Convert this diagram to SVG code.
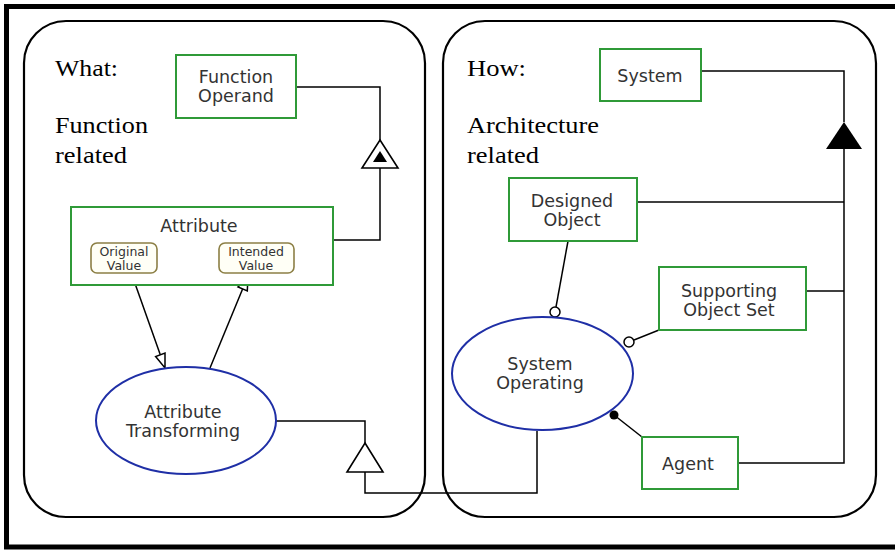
<svg xmlns="http://www.w3.org/2000/svg" width="895" height="550" viewBox="0 0 895 550">
<style>
.frame{fill:none;stroke:#000;stroke-width:5}
.panel{fill:#fff;stroke:#000;stroke-width:2.2}
.box{fill:#fff;stroke:#2f9a38;stroke-width:2}
.val{fill:#fffff6;stroke:#8c7f45;stroke-width:1.6}
.proc{fill:#fff;stroke:#1f2fa6;stroke-width:2}
.t{font-family:"DejaVu Sans","Verdana",sans-serif;font-size:17.5px;fill:#333;text-anchor:middle}
.ts{font-family:"DejaVu Sans","Verdana",sans-serif;font-size:12.5px;fill:#333;text-anchor:middle}
.lbl{font-family:"Liberation Serif","Times New Roman",serif;font-size:23px;fill:#000}
.ln{fill:none;stroke:#000;stroke-width:1.5}
.head{fill:#fff;stroke:#000;stroke-width:1.5;stroke-linejoin:miter}
</style>
<rect class="frame" x="6.5" y="6.5" width="900" height="540.5"/>
<rect class="panel" x="24" y="21" width="401" height="496" rx="42"/>
<rect class="panel" x="443" y="21" width="433" height="496" rx="42"/>
<g id="labels">
<text class="lbl" x="55" y="76" textLength="63" lengthAdjust="spacingAndGlyphs">What:</text>
<text class="lbl" x="55" y="133" textLength="93" lengthAdjust="spacingAndGlyphs">Function</text>
<text class="lbl" x="55" y="163" textLength="72" lengthAdjust="spacingAndGlyphs">related</text>
<text class="lbl" x="467" y="76" textLength="59" lengthAdjust="spacingAndGlyphs">How:</text>
<text class="lbl" x="467" y="133" textLength="132" lengthAdjust="spacingAndGlyphs">Architecture</text>
<text class="lbl" x="467" y="163" textLength="72" lengthAdjust="spacingAndGlyphs">related</text>
</g>
<g id="connectors">
<polyline class="ln" points="296,87 380,87 380,140"/>
<polyline class="ln" points="380,168 380,240 333,240"/>
<path d="M380,140 L398,168 L362,168 z" fill="#fff" stroke="#000" stroke-width="1.6"/>
<path d="M380,151 L387,162 L373,162 z" fill="#000"/>
<line class="ln" x1="132" y1="275" x2="160.3" y2="354.8"/>
<path class="head" d="M155.6,356.5 L165,368 L165,353.1 z"/>
<line class="ln" x1="210" y1="368" x2="242.6" y2="289"/>
<path class="head" d="M247.3,290.9 L248,276 L238,287 z"/>
<polyline class="ln" points="276,421 365,421 365,443"/>
<path d="M365,443 L383,472 L347,472 z" fill="#fff" stroke="#000" stroke-width="1.6"/>
<polyline class="ln" points="365,472 365,493 537,493 537,431"/>
<polyline class="ln" points="701,71 844,71 844,122"/>
<path d="M844,122 L862,149 L826,149 z" fill="#000"/>
<polyline class="ln" points="844,149 844,463 738,463"/>
<line class="ln" x1="637" y1="202" x2="844" y2="202"/>
<line class="ln" x1="806" y1="291" x2="844" y2="291"/>
<line class="ln" x1="568" y1="241" x2="556" y2="307"/>
<circle cx="555" cy="312" r="5" fill="#fff" stroke="#000" stroke-width="1.5"/>
<line class="ln" x1="659" y1="330" x2="634" y2="340"/>
<circle cx="629" cy="342" r="5" fill="#fff" stroke="#000" stroke-width="1.5"/>
<line class="ln" x1="642" y1="437" x2="614" y2="415"/>
<circle cx="614" cy="415" r="4.5" fill="#000"/>
</g>
<g id="function-operand">
<rect class="box" x="176" y="55" width="120" height="63"/>
<text class="t" x="236" y="83">Function</text>
<text class="t" x="236" y="102">Operand</text>
</g>
<g id="attribute">
<rect class="box" x="71" y="207" width="262" height="78"/>
<text class="t" x="199" y="232">Attribute</text>
</g>
<g id="original-value">
<rect class="val" x="91" y="243" width="66" height="30" rx="6"/>
<text class="ts" x="124" y="256">Original</text>
<text class="ts" x="124" y="270">Value</text>
</g>
<g id="intended-value">
<rect class="val" x="219" y="243" width="75" height="30" rx="6"/>
<text class="ts" x="256" y="256">Intended</text>
<text class="ts" x="256" y="270">Value</text>
</g>
<g id="attribute-transforming">
<ellipse class="proc" cx="186" cy="420.5" rx="90" ry="53.5"/>
<text class="t" x="183" y="418">Attribute</text>
<text class="t" x="183" y="437">Transforming</text>
</g>
<g id="system">
<rect class="box" x="600" y="49" width="101" height="52"/>
<text class="t" x="650" y="82">System</text>
</g>
<g id="designed-object">
<rect class="box" x="509" y="178" width="128" height="63"/>
<text class="t" x="572" y="207">Designed</text>
<text class="t" x="572" y="226">Object</text>
</g>
<g id="supporting-object-set">
<rect class="box" x="659" y="267" width="147" height="63"/>
<text class="t" x="729" y="297">Supporting</text>
<text class="t" x="729" y="316">Object Set</text>
</g>
<g id="agent">
<rect class="box" x="642" y="437" width="96" height="52"/>
<text class="t" x="688" y="470">Agent</text>
</g>
<g id="system-operating">
<ellipse class="proc" cx="542.5" cy="373.5" rx="90.5" ry="56.5"/>
<text class="t" x="540" y="370">System</text>
<text class="t" x="540" y="389">Operating</text>
</g>
</svg>
